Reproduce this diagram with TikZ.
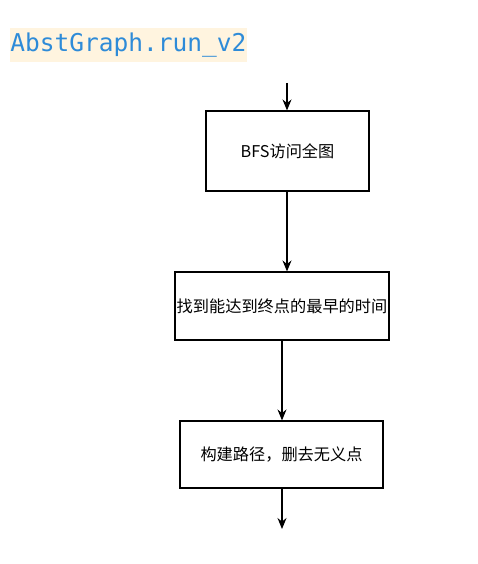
\documentclass[tikz,border=0pt]{standalone}
\usepackage{fontspec}
\newfontfamily\cjk{Noto Sans CJK SC}
\newfontfamily\mono{DejaVu Sans Mono}
\usetikzlibrary{arrows.meta}
\definecolor{titlebg}{HTML}{FFF4DF}
\definecolor{titlefg}{HTML}{2E8BD8}
\tikzset{
  stepbox/.style={draw=black, line width=1.1pt, fill=white, inner sep=0pt, font=\cjk\fontsize{16.2}{19}\selectfont},
  flow/.style={draw=black, line width=1.2pt, -{Stealth[length=11pt,width=9pt]}},
}
\begin{document}
\begin{tikzpicture}[x=1pt,y=-1pt]
\useasboundingbox (0,0) rectangle (478,564);
\node[fill=titlebg, minimum width=237pt, minimum height=34pt, inner sep=0pt, text=titlefg, font=\mono\fontsize{24.5}{29}\selectfont] (title) at (128.5,45) {AbstGraph.run\_v2};
\node[stepbox, minimum width=163pt, minimum height=80pt] (b1) at (287.5,151) {BFS访问全图};
\node[stepbox, minimum width=214pt, minimum height=68pt] (b2) at (282,306) {找到能达到终点的最早的时间};
\node[stepbox, minimum width=203pt, minimum height=67pt] (b3) at (281.5,454.5) {构建路径，删去无义点};
\coordinate (top) at (287,83);
\coordinate (mid) at (282,0);
\coordinate (end) at (282,529);
\draw[flow] (top) -- (top |- b1.north);
\draw[flow] (top |- b1.south) -- (top |- b2.north);
\draw[flow] (mid |- b2.south) -- (mid |- b3.north);
\draw[flow] (end |- b3.south) -- (end);
\end{tikzpicture}
\end{document}
